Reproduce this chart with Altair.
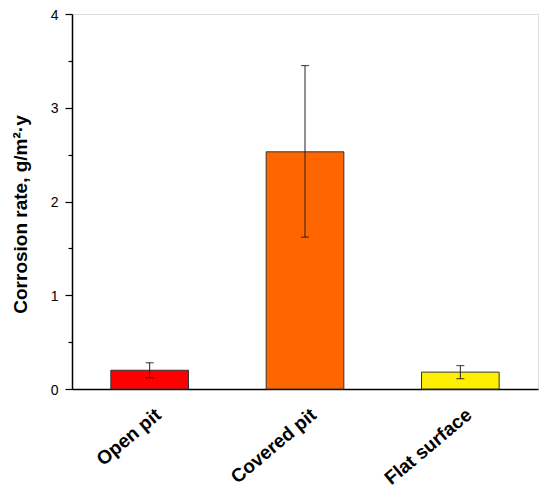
import altair as alt
import pandas as pd

categories = ["Open pit", "Covered pit", "Flat surface"]
rates = [0.20, 2.53, 0.18]
err_low = [0.12, 1.62, 0.11]
err_high = [0.28, 3.45, 0.25]
colors = ["#FF0000", "#FF6600", "#FFEE00"]
tick_values = [0, 0.5, 1, 1.5, 2, 2.5, 3, 3.5, 4]

df = pd.DataFrame({"cat": categories, "val": rates, "lo": err_low, "hi": err_high})

FONT = "Liberation Sans"
yscale = alt.Scale(domain=[0, 4], nice=False, zero=True)
xscale = alt.Scale(domain=categories, paddingInner=0.5, paddingOuter=0.25)

x_enc = alt.X("cat:N", sort=categories, scale=xscale, title=None,
              axis=alt.Axis(labelAngle=-40, labelAlign="right", labelBaseline="top",
                            labelFont=FONT, labelFontSize=19, labelOffset=3,
                            labelFontWeight="bold", labelColor="black",
                            ticks=False, labelPadding=16, domainColor="black",
                            domainWidth=1.5))

base = alt.Chart(df)

bars = base.mark_bar(stroke="#333333", strokeWidth=1).encode(
    x=x_enc,
    y=alt.Y("val:Q", scale=yscale,
            title="Corrosion rate, g/m²·y",
            axis=alt.Axis(orient="left", values=tick_values,
                          labelExpr="datum.value % 1 === 0 ? toString(datum.value) : ''",
                          labelFont=FONT, labelFontSize=14, labelColor="black",
                          labelOffset=1,
                          tickSize={"condition": {"test": "datum.value % 1 === 0", "value": 7}, "value": 4},
                          tickColor="black", tickWidth=1.2,
                          domainColor="black", domainWidth=1.5,
                          labelPadding=7, grid=False,
                          titleFont=FONT, titleFontSize=19, titleFontWeight="bold",
                          titleColor="black", titlePadding=20, titleY=200)),
    color=alt.Color("cat:N", scale=alt.Scale(domain=categories, range=colors), legend=None),
)

rules = base.mark_rule(color="#222222", strokeWidth=1).encode(
    x=alt.X("cat:N", sort=categories, scale=xscale),
    y=alt.Y("lo:Q", scale=yscale),
    y2="hi:Q",
)
cap_lo = base.mark_tick(color="#111111", thickness=1.2, size=8).encode(
    x=alt.X("cat:N", sort=categories, scale=xscale),
    y=alt.Y("lo:Q", scale=yscale),
)
cap_hi = base.mark_tick(color="#111111", thickness=1.2, size=8).encode(
    x=alt.X("cat:N", sort=categories, scale=xscale),
    y=alt.Y("hi:Q", scale=yscale),
)

chart = alt.layer(bars, rules, cap_lo, cap_hi).properties(
    width=466, height=375,
    autosize=alt.AutoSizeParams(type="none"),
    padding={"left": 64, "top": 6, "right": 4, "bottom": 106},
).configure_view(stroke=None).configure(background="white")

chart.save("out.html", embed_options={"renderer": "svg", "actions": False})
